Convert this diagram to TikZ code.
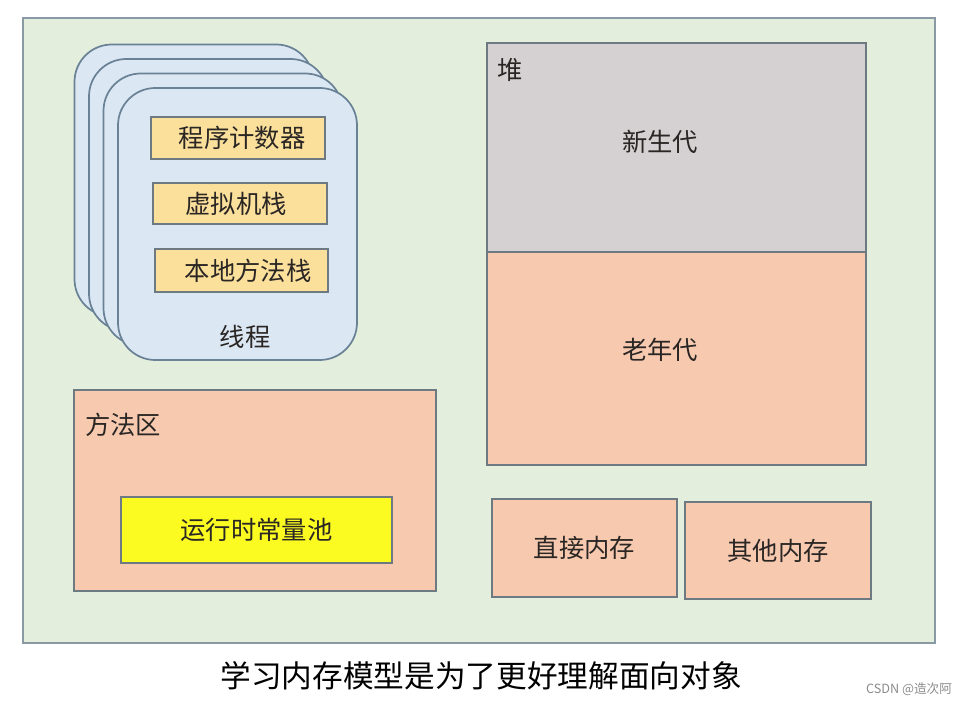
\documentclass[tikz,border=0pt]{standalone}
\usepackage{fontspec}
\setmainfont{Noto Sans CJK SC}
\definecolor{panel}{HTML}{E4EEDC}
\definecolor{panelline}{HTML}{8A9AA4}
\definecolor{cardfill}{HTML}{DCE7F4}
\definecolor{cardline}{HTML}{6A8296}
\definecolor{slot}{HTML}{FBE09C}
\definecolor{heapgray}{HTML}{D5D0D2}
\definecolor{salmon}{HTML}{F7CAB0}
\definecolor{pool}{HTML}{FBFB22}
\definecolor{boxline}{HTML}{6E7A82}
\definecolor{ink}{HTML}{2A2624}
\tikzset{
  card/.style={draw=cardline, line width=1.3pt, fill=cardfill, rounded corners=28pt,
    minimum width=179.25pt, minimum height=204pt, inner sep=0pt},
  slotbox/.style={draw=boxline, line width=1.2pt, fill=slot, inner sep=0pt,
    font=\fontsize{19}{22}\selectfont, text=ink},
  area/.style={draw=boxline, line width=1.2pt, fill=salmon, inner sep=0pt,
    font=\fontsize{19}{22}\selectfont, text=ink},
  lbl/.style={font=\fontsize{19}{22}\selectfont, text=ink, inner sep=0pt},
}
\begin{document}
\begin{tikzpicture}[x=0.75pt,y=-0.75pt]
\useasboundingbox[fill=white] (0,0) rectangle (973,706);
\draw[draw=panelline, line width=1.2pt, fill=panel] (23,18) rectangle (935,643);
% thread cards
\node[card] (card1) at (194,180.5) {};
\node[card] (card2) at (208.5,195) {};
\node[card] (card3) at (223,209.5) {};
\node[card] (card4) at (237.5,224) {};
\node[slotbox, minimum width=130.5pt, minimum height=31.5pt] (pc) at (238,138) {\hspace*{6pt}程序计数器};
\node[slotbox, minimum width=130.5pt, minimum height=30.75pt] (vm) at (240,203.5) {虚拟机栈\hspace*{6pt}};
\node[slotbox, minimum width=129.75pt, minimum height=32.25pt] (nat) at (241.5,270.5) {\hspace*{10pt}本地方法栈};
\node[lbl] (thread) at (245,337) {线程};
% heap
\node[draw=boxline, line width=1.2pt, fill=heapgray, inner sep=0pt,
  minimum width=284.25pt, minimum height=156.75pt] (young) at (676.5,147.5) {};
\node[area, minimum width=284.25pt, minimum height=159.75pt] (old) at (676.5,358.5) {};
\node[lbl] (heaplbl) at (510,70) {堆};
\node[lbl] (younglbl) at (660,142) {新生代};
\node[lbl] (oldlbl) at (660,350) {老年代};
% method area
\node[area, minimum width=271.5pt, minimum height=150.75pt] (method) at (255,490.5) {};
\node[lbl] (methodlbl) at (123,425) {方法区};
\node[slotbox, fill=pool, minimum width=203.25pt, minimum height=49.5pt] (pool) at (256.5,530) {运行时常量池};
% other memory
\node[area, minimum width=138.75pt, minimum height=73.5pt] (direct) at (584.5,548) {直接内存};
\node[area, minimum width=139.5pt, minimum height=72.75pt] (other) at (778,550.5) {其他内存};
% caption
\node[font=\fontsize{23}{27}\selectfont, text=black, inner sep=0pt] (caption) at (481,676) {学习内存模型是为了更好理解面向对象};
\node[font=\fontsize{9.5}{12}\selectfont, text=black!45, inner sep=0pt] (wm) at (909,689) {CSDN @造次阿};
\end{tikzpicture}
\end{document}
